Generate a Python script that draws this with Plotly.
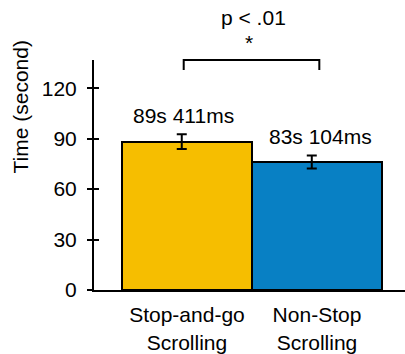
import plotly.graph_objects as go

categories = ["Stop-and-go<br>Scrolling", "Non-Stop<br>Scrolling"]
mean_time = [88.3, 76.1]
error_time = [4.4, 3.9]
bar_labels = ["89s 411ms", "83s 104ms"]
bar_colors = ["#F6BE00", "#0880C4"]
y_ticks = [0, 30, 60, 90, 120]
sig_text = "p < .01"
sig_mark = "*"

FONT = "Liberation Sans, Arial, sans-serif"
FS = 21
xpos = list(range(len(categories)))

fig = go.Figure()
fig.add_trace(go.Bar(
    x=xpos, y=mean_time, width=0.995,
    marker=dict(color=bar_colors, line=dict(color="black", width=2)),
    showlegend=False, hoverinfo="skip",
))
fig.add_trace(go.Scatter(
    x=xpos, y=mean_time, mode="markers", xaxis="x2",
    marker=dict(size=1, color="rgba(0,0,0,0)"),
    error_y=dict(type="data", array=error_time, color="black", thickness=2, width=5),
    showlegend=False, hoverinfo="skip",
))

xr = [-0.715, 1.677]
shift = 0.04
fig.update_layout(
    width=405, height=354,
    margin=dict(l=94, r=0, t=60, b=57),
    paper_bgcolor="white", plot_bgcolor="white",
    font=dict(family=FONT, size=FS, color="black"),
    bargap=0,
    xaxis=dict(range=xr, tickvals=xpos, ticktext=categories, showgrid=False,
               zeroline=False, showline=True, linecolor="black", linewidth=2,
               ticks="", ticklabelstandoff=5, tickfont=dict(size=FS)),
    xaxis2=dict(range=[xr[0] + shift, xr[1] + shift], overlaying="x", visible=False),
    yaxis=dict(range=[0, 136.8], tickvals=y_ticks, showgrid=False, zeroline=False,
               showline=True, linecolor="black", linewidth=2,
               ticks="outside", ticklen=5, tickwidth=2, tickcolor="black",
               ticklabelstandoff=6, tickfont=dict(size=FS)),
    yaxis2=dict(range=[0, 136.8], tickvals=y_ticks, overlaying="y", showgrid=False,
                zeroline=False, showline=False, showticklabels=False,
                ticks="inside", ticklen=5, tickwidth=2, tickcolor="black"),
)

# invisible trace to activate yaxis2 ticks
fig.add_trace(go.Scatter(x=[None], y=[None], yaxis="y2", showlegend=False, hoverinfo="skip"))

annotations = []
label_shift = [-3.5, 3.5]
for i, (m, e, t) in enumerate(zip(mean_time, error_time, bar_labels)):
    annotations.append(dict(x=xpos[i], y=m + e, xref="x", yref="y", text=t,
                            showarrow=False, yanchor="middle", yshift=19,
                            xshift=label_shift[i], font=dict(size=FS, color="black")))
annotations.append(dict(x=0.5, y=1, xref="x", yref="paper", text=sig_text,
                        showarrow=False, yanchor="middle", yshift=43, xshift=2,
                        font=dict(size=FS, color="black")))
annotations.append(dict(x=0.5, y=1, xref="x", yref="paper", text=sig_mark,
                        showarrow=False, yanchor="middle", yshift=18, xshift=-3,
                        font=dict(size=FS, color="black")))
annotations.append(dict(x=0, y=1, xref="paper", yref="paper", text="Time (second)",
                        textangle=-90, showarrow=False, xanchor="center", yanchor="middle",
                        xshift=-74, yshift=-47.5, font=dict(size=FS, color="black")))
fig.update_layout(annotations=annotations)

# significance bracket
fig.add_shape(type="path", xref="x", yref="paper",
              path="M -0.025,0.957 L -0.025,1 L 1.018,1 L 1.018,0.957",
              line=dict(color="black", width=2))

fig.write_html("out.html",
               config={"displayModeBar": False},
               post_script="document.body.style.margin='0';document.body.style.overflow='hidden';")
